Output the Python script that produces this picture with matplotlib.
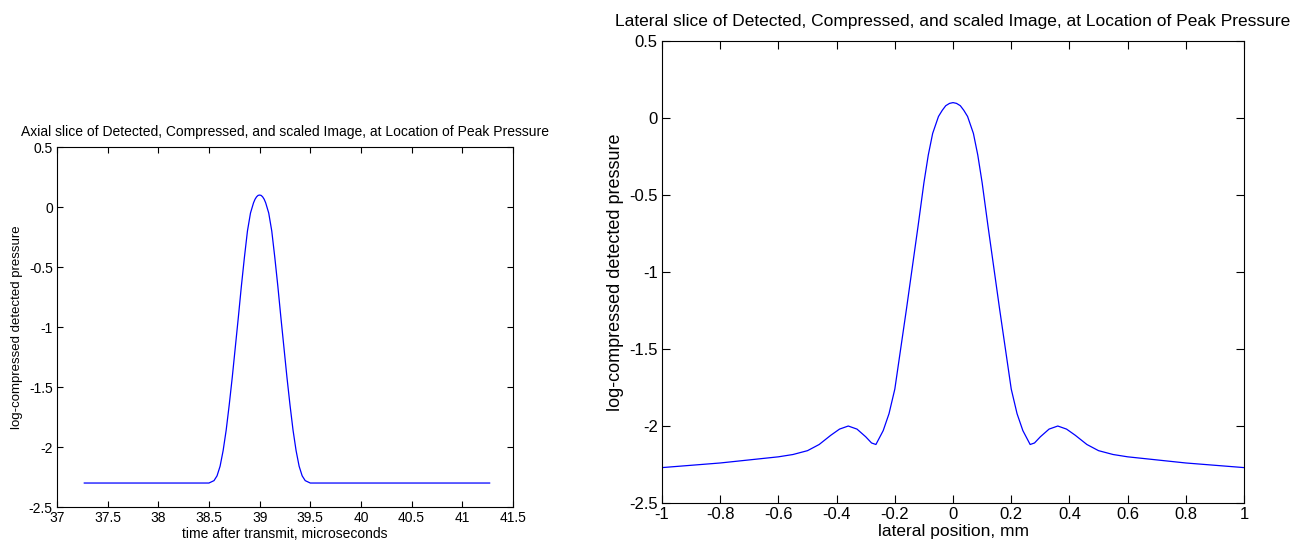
import numpy as np
import matplotlib
matplotlib.use("Agg")
import matplotlib.pyplot as plt

plt.rcParams["font.family"] = ["Liberation Sans", "DejaVu Sans"]

# axial slice: offset from peak (microseconds) and value, mirrored around the peak
axial_peak = 39.0
axial_start = 37.27
axial_end = 41.27
axial_offsets = [0.00, 0.015, 0.03, 0.045, 0.06, 0.09, 0.12, 0.15, 0.18, 0.21, 0.24, 0.27,
                 0.30, 0.33, 0.36, 0.39, 0.42, 0.45, 0.50]
axial_values = [0.10, 0.097, 0.085, 0.065, 0.035, -0.05, -0.20, -0.42, -0.66, -0.92, -1.17, -1.42,
                -1.65, -1.86, -2.03, -2.16, -2.24, -2.28, -2.30]

# lateral slice: position (mm) and value, mirrored around 0
lateral_pos = [0.00, 0.012, 0.025, 0.037, 0.05, 0.07, 0.085, 0.10, 0.12, 0.14, 0.16, 0.18,
               0.20, 0.22, 0.24, 0.265, 0.28, 0.30, 0.33, 0.36, 0.39, 0.42,
               0.46, 0.50, 0.55, 0.60, 0.70, 0.80, 0.90, 1.00]
lateral_values = [0.10, 0.095, 0.08, 0.05, 0.01, -0.10, -0.24, -0.42, -0.70, -0.97, -1.24, -1.50,
                  -1.76, -1.92, -2.03, -2.12, -2.11, -2.07, -2.02, -2.00, -2.02, -2.06,
                  -2.12, -2.16, -2.185, -2.20, -2.22, -2.24, -2.255, -2.27]

# build full curves
ax_off = np.array(axial_offsets)
ax_val = np.array(axial_values)
axial_x = np.concatenate([[axial_start], axial_peak - ax_off[::-1], axial_peak + ax_off[1:], [axial_end]])
axial_y = np.concatenate([[ax_val[-1]], ax_val[::-1], ax_val[1:], [ax_val[-1]]])

lat_x = np.array(lateral_pos)
lat_y = np.array(lateral_values)
lateral_x = np.concatenate([-lat_x[::-1], lat_x[1:]])
lateral_y = np.concatenate([lat_y[::-1], lat_y[1:]])

fig = plt.figure(figsize=(12.94, 5.41), dpi=100)

def matlab_style(ax, size, ticklen):
    ax.tick_params(direction="in", top=True, right=True, labelsize=size,
                   length=ticklen, width=0.8)
    ax.tick_params(axis="x", pad=3)
    ax.tick_params(axis="y", pad=3)
    for s in ax.spines.values():
        s.set_linewidth(0.8)

# left panel
ax1 = fig.add_axes([0.044, 0.0628, 0.3524, 0.6654])
ax1.plot(axial_x, axial_y, color="#0000ff", linewidth=0.9)
ax1.set_xlim(37, 41.5)
ax1.set_ylim(-2.5, 0.5)
ax1.set_xticks(np.arange(37, 41.51, 0.5))
ax1.set_xticklabels(["37", "37.5", "38", "38.5", "39", "39.5", "40", "40.5", "41", "41.5"])
ax1.set_yticks([-2.5, -2, -1.5, -1, -0.5, 0, 0.5])
ax1.set_yticklabels(["-2.5", "-2", "-1.5", "-1", "-0.5", "0", "0.5"])
matlab_style(ax1, 10, 4.5)
ax1.set_title("Axial slice of Detected, Compressed, and scaled Image, at Location of Peak Pressure",
              fontsize=10, pad=8)
ax1.set_xlabel("time after transmit, microseconds", fontsize=10, labelpad=1)
ax1.set_ylabel("log-compressed detected pressure", fontsize=9.5, labelpad=4)

# right panel
ax2 = fig.add_axes([0.5116, 0.0702, 0.4498, 0.854])
ax2.plot(lateral_x, lateral_y, color="#0000ff", linewidth=0.9)
ax2.set_xlim(-1, 1)
ax2.set_ylim(-2.5, 0.5)
ax2.set_xticks(np.arange(-1, 1.01, 0.2))
ax2.set_xticklabels(["-1", "-0.8", "-0.6", "-0.4", "-0.2", "0", "0.2", "0.4", "0.6", "0.8", "1"])
ax2.set_yticks([-2.5, -2, -1.5, -1, -0.5, 0, 0.5])
ax2.set_yticklabels(["-2.5", "-2", "-1.5", "-1", "-0.5", "0", "0.5"])
matlab_style(ax2, 12, 5.5)
ax2.set_title("Lateral slice of Detected, Compressed, and scaled Image, at Location of Peak Pressure",
              fontsize=12.5, pad=11)
ax2.set_xlabel("lateral position, mm", fontsize=12.5, labelpad=1)
ax2.set_ylabel("log-compressed detected pressure", fontsize=13, labelpad=4)

fig.savefig("out.png", dpi=100)
